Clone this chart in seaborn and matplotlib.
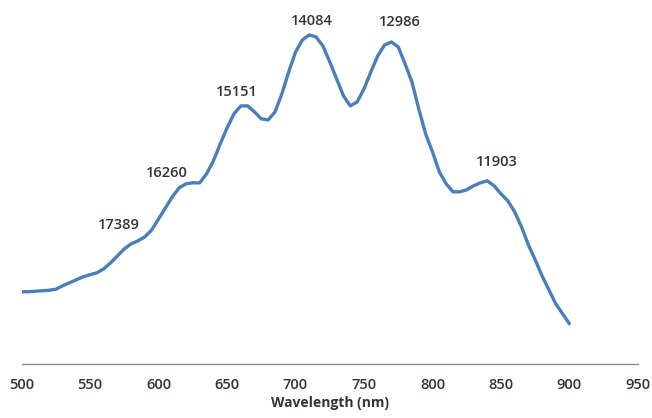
import pandas as pd
import numpy as np
import seaborn as sns
import matplotlib.pyplot as plt

# Spectrum every 5 nm (arbitrary intensity units)
wavelength = list(range(500, 905, 5))
intensity = [72, 72, 72.5, 73, 73.5, 74.5, 78, 81, 84, 87,
             89, 91, 95, 101, 108, 115, 120, 123, 127, 134,
             145, 156, 167, 176, 180, 181, 181, 190, 203, 220,
             236, 250, 258, 258, 252, 245, 244, 252, 270, 292,
             312, 324, 329, 327, 318, 302, 285, 268, 258, 262,
             275, 292, 308, 319, 322, 317, 300, 282, 255, 230,
             212, 192, 180, 172, 172, 174, 178, 181, 183, 178,
             170, 163, 152, 137, 119, 104, 88, 74, 60, 50, 40]

# Peak labels (wavenumbers, cm-1) and where they sit
peak_labels = ['17389', '16260', '15151', '14084', '12986', '11903']
peak_x = [571, 606, 657, 712, 776, 847]
peak_y = [139, 191, 272, 343, 342, 202]

xticks = [500, 550, 600, 650, 700, 750, 800, 850, 900, 950]

df = pd.DataFrame({'Wavelength': wavelength, 'Intensity': intensity})

sns.set_style('white')
plt.rcParams['font.family'] = ['Open Sans', 'DejaVu Sans']

fig = plt.figure(figsize=(6.52, 4.18), dpi=100)
ax = fig.add_axes([0.0333, 0.13, 0.945, 0.87])

sns.lineplot(data=df, x='Wavelength', y='Intensity', color='#4a7ebb', linewidth=2.4,
             solid_joinstyle='round', solid_capstyle='round', ax=ax)

for lab, x, y in zip(peak_labels, peak_x, peak_y):
    ax.text(x, y, lab, ha='center', va='center', fontsize=10.5, color='#3b3030',
            fontweight='semibold')

ax.set_xlim(500, 950)
ax.set_ylim(0, 364)
ax.set_xticks(xticks)
ax.set_xticklabels([str(t) for t in xticks], fontsize=10.5, color='#3b3030', fontweight='semibold')
ax.set_yticks([])
ax.set_ylabel('')
ax.set_xlabel('Wavelength (nm)', fontsize=10, fontweight='bold', color='#3b3030', labelpad=3)

for s in ['left', 'top', 'right']:
    ax.spines[s].set_visible(False)
ax.spines['bottom'].set_color('#8c8c8c')
ax.spines['bottom'].set_linewidth(1.0)
ax.tick_params(axis='x', direction='out', length=4, color='#8c8c8c', width=1, pad=6)

fig.savefig('out.png', dpi=100)
